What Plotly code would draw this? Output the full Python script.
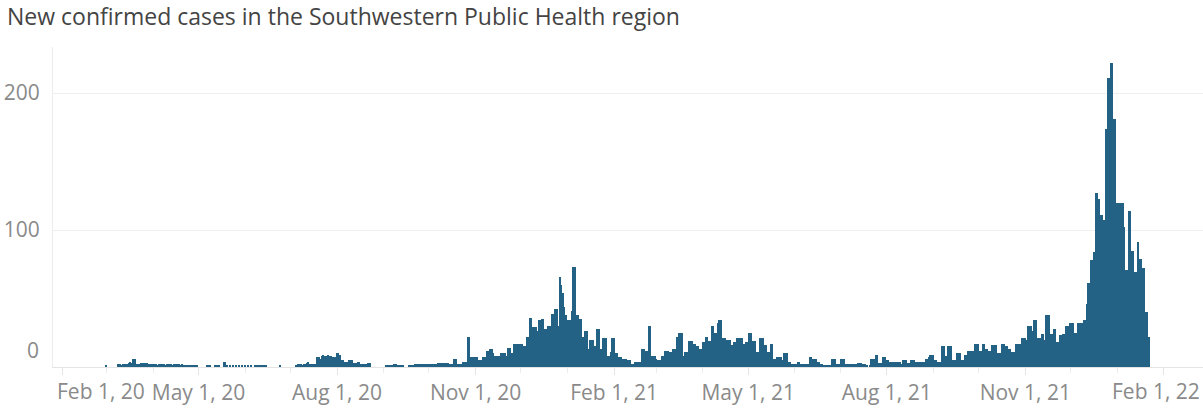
import pandas as pd
import plotly.graph_objects as go

# Daily new confirmed cases (starting 2020-03-01)
mar_2020 = [1,0,0,0,0,0,0,0,2,2,1,2,2,2,2,3,4,3,6,6,2,2,2,3,3,3,3,3,2,2,2]
apr_2020 = [2,2,2,1,2,2,2,2,1,2,2,2,2,1,2,2,2,2,1,2,1,1,1,1,1,1,1,1,1,1]
may_2020 = [0,0,0,0,0,0,1,1,1,0,0,1,1,1,1,0,0,4,4,1,0,1,0,1,0,1,0,1,0,1,0]
jun_2020 = [1,0,1,0,1,0,0,1,1,1,1,1,1,1,1,0,0,0,0,0,0,0,0,1,0,0,0,0,0,0]
jul_2020 = [0,0,0,0,1,2,2,2,1,2,2,3,4,2,2,2,2,2,7,7,6,8,9,8,8,9,8,8,7,7,7]
aug_2020 = [10,10,9,5,5,4,4,4,5,5,5,3,3,3,4,4,2,2,2,2,2,3,3,0,0,0,0,0,0,0,0]
sep_2020 = [0,0,1,1,1,1,1,2,2,1,1,1,1,1,0,0,0,1,1,1,1,2,2,2,2,2,2,2,2,2]
oct_2020 = [2,2,2,2,2,2,3,3,3,3,3,3,3,3,2,2,2,6,6,2,2,2,2,4,4,4,22,22,7,7,7]
nov_2020 = [7,7,5,5,5,7,7,7,12,12,13,13,10,8,8,8,8,10,10,10,10,8,14,14,10,10,17,17,17,17]
dec_2020 = [17,17,15,15,22,22,36,36,29,29,29,26,34,34,35,35,28,28,30,30,30,39,39,42,42,30,66,60,54,44,38]
jan_2021 = [34,34,34,41,73,73,38,38,35,35,22,22,26,26,13,20,20,20,15,15,28,28,13,13,21,21,21,8,8,11,21]
feb_2021 = [21,10,10,7,7,7,6,6,6,5,5,5,2,2,4,4,4,4,4,13,13,12,12,30,30,8,8,8]
mar_2021 = [6,5,5,5,8,8,12,12,12,11,11,13,13,13,22,25,25,25,8,11,11,11,19,19,19,17,17,15,15,13,13]
apr_2021 = [18,18,22,22,19,19,30,30,25,25,32,34,34,21,21,21,20,20,20,16,16,18,18,21,21,21,21,17,17,18]
may_2021 = [18,25,25,19,19,19,11,11,21,21,21,16,16,11,11,17,17,6,6,7,7,7,7,5,10,10,10,4,4,2,2]
jun_2021 = [2,2,4,4,2,2,2,2,2,2,7,7,6,6,6,4,4,2,2,1,1,1,1,1,1,6,6,6,2,2]
jul_2021 = [2,6,6,6,2,2,2,2,2,2,2,2,3,3,3,2,2,2,1,0,1,6,6,6,9,9,3,3,3,7,7]
aug_2021 = [5,5,4,4,4,4,4,4,4,4,2,5,5,5,3,3,5,5,5,4,4,4,4,4,4,4,6,6,7,9,9]
sep_2021 = [9,5,5,4,4,4,15,15,8,8,15,15,15,5,5,5,10,10,10,5,5,9,9,12,12,12,12,12,17,17]
oct_2021 = [17,12,12,17,17,13,13,12,12,16,16,16,16,10,10,10,17,17,15,15,13,13,11,11,11,17,17,17,17,21,21]
nov_2021 = [21,20,30,30,30,26,34,34,21,21,21,24,24,20,38,38,38,24,24,28,28,18,18,23,23,24,24,30,30,30]
dec_2021 = [32,32,32,25,25,32,32,32,32,34,34,46,61,61,78,78,84,127,127,123,111,111,107,107,174,211,211,222,222,181,181]
jan_2022 = [120,120,120,120,120,102,71,71,114,114,85,85,69,69,91,79,79,72,72,40,40,22]

start_date = "2020-03-01"

tick_dates = ["2020-02-01", "2020-05-01", "2020-08-01", "2020-11-01",
              "2021-02-01", "2021-05-01", "2021-08-01", "2021-11-01", "2022-02-01"]
tick_labels = ["Feb 1, 20", "May 1, 20", "Aug 1, 20", "Nov 1, 20",
               "Feb 1, 21", "May 1, 21", "Aug 1, 21", "Nov 1, 21", "Feb 1, 22"]
y_ticks = [100, 200]

title_text = "New confirmed cases in the Southwestern Public Health region"

cases = (mar_2020 + apr_2020 + may_2020 + jun_2020 + jul_2020 + aug_2020 + sep_2020 +
         oct_2020 + nov_2020 + dec_2020 + jan_2021 + feb_2021 + mar_2021 + apr_2021 +
         may_2021 + jun_2021 + jul_2021 + aug_2021 + sep_2021 + oct_2021 + nov_2021 +
         dec_2021 + jan_2022)
dates = pd.date_range(start_date, periods=len(cases), freq="D")

# inner tick labels are drawn by the axis; the two edge labels are kept inside the frame
axis_labels = [""] + tick_labels[1:-1] + [""]

FONT = "'Open Sans', sans-serif"
BAR = "#236185"
TICK_COLOR = "#8a8a8a"
TICK_SIZE = 21

fig = go.Figure()
fig.add_trace(go.Bar(
    x=dates, y=cases,
    width=86400000,
    marker=dict(color=BAR, line=dict(width=0)),
    hovertemplate="%{x|%b %d, %Y}: %{y}<extra></extra>",
))

edge_labels = [
    dict(text=tick_labels[0], xref="x", x=tick_dates[0], xanchor="left", xshift=-8,
         yref="paper", y=0, yanchor="middle", yshift=-24, showarrow=False,
         font=dict(family=FONT, size=TICK_SIZE, color=TICK_COLOR)),
    dict(text=tick_labels[-1], xref="x", x=tick_dates[-1], xanchor="right", xshift=38,
         yref="paper", y=0, yanchor="middle", yshift=-24, showarrow=False,
         font=dict(family=FONT, size=TICK_SIZE, color=TICK_COLOR)),
    dict(text="0", xref="paper", x=0, xanchor="right", xshift=-12,
         yref="y", y=0, yanchor="middle", yshift=17, showarrow=False,
         font=dict(family=FONT, size=TICK_SIZE, color=TICK_COLOR)),
]

fig.update_layout(
    width=1203, height=411,
    margin=dict(l=53, r=0, t=47, b=44, autoexpand=False),
    paper_bgcolor="white", plot_bgcolor="white",
    bargap=0,
    showlegend=False,
    font=dict(family=FONT, color=TICK_COLOR),
    title=dict(text=title_text, x=7/1203, xanchor="left", xref="container",
               y=1 - 17/411, yanchor="middle", yref="container",
               pad=dict(l=0, r=0, t=0, b=0),
               font=dict(family=FONT, size=23, color="#444444")),
    xaxis=dict(
        type="date",
        range=["2020-01-25 10:00", "2022-02-27"],
        tickvals=tick_dates, ticktext=axis_labels,
        ticks="outside", ticklen=7, tickcolor="#e4e4e4", tickwidth=1,
        minor=dict(ticks="outside", dtick="M1", tick0="2020-02-01",
                   ticklen=5, tickcolor="#ececec", showgrid=False),
        showgrid=False, showline=True, linecolor="#e4e4e4", linewidth=1,
        tickfont=dict(family=FONT, size=TICK_SIZE, color=TICK_COLOR),
        zeroline=False,
    ),
    yaxis=dict(
        range=[0, 233.6],
        tickvals=y_ticks, ticktext=[str(v) for v in y_ticks],
        ticks="", showgrid=True, gridcolor="#efefef", gridwidth=1,
        showline=True, linecolor="#ececec", linewidth=1,
        zeroline=False, ticklabelstandoff=8,
        tickfont=dict(family=FONT, size=TICK_SIZE, color=TICK_COLOR),
    ),
    annotations=edge_labels,
)

fig.write_html(
    "out.html",
    config={"displayModeBar": False},
    post_script="document.body.style.margin='0px';document.body.style.overflow='hidden';",
)
